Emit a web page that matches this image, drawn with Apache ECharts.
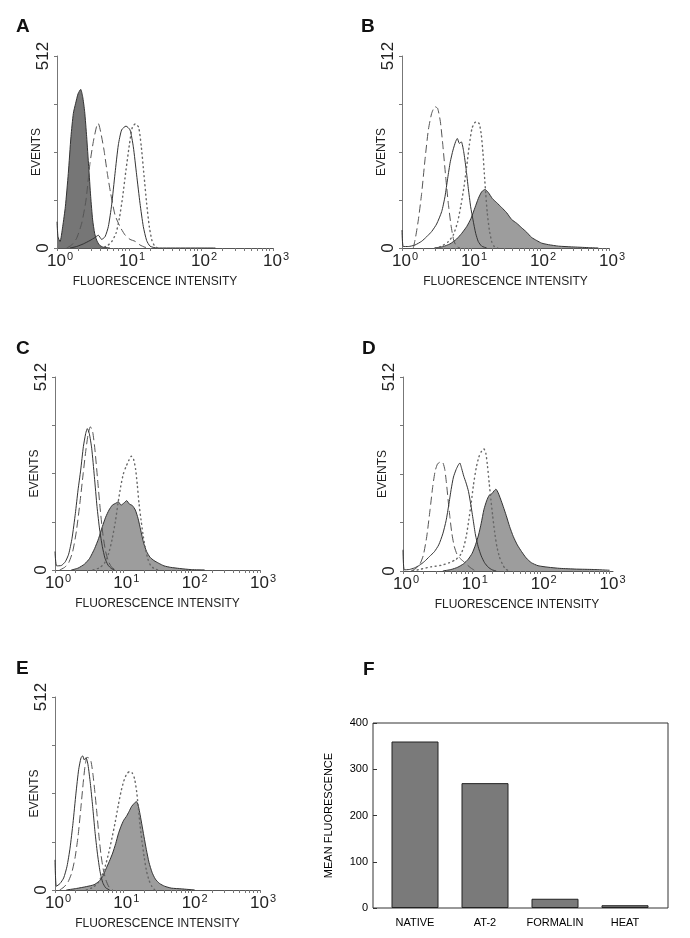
<!DOCTYPE html>
<html><head><meta charset="utf-8">
<script src="https://cdn.jsdelivr.net/npm/echarts@6/dist/echarts.min.js"></script>
<style>html,body{margin:0;padding:0;background:#fff}#c{width:690px;height:938px}</style>
</head><body><div id="c"></div>
<script>
// ---------- DATA (x = log10 fluorescence intensity, y = events) ----------
const A_filled = [[0,70],[0.014,30],[0.042,17],[0.079,57],[0.116,110],[0.157,199],[0.194,297],[0.227,359],[0.259,386],[0.292,411],[0.329,423],[0.356,404],[0.384,364],[0.412,297],[0.440,217],[0.468,137],[0.495,75],[0.523,39],[0.551,21],[0.588,8],[0.644,2],[0.736,0]];
const A_dashed = [[0.134,0],[0.204,8],[0.273,26],[0.343,66],[0.403,128],[0.458,226],[0.505,284],[0.551,325],[0.574,332],[0.606,310],[0.653,261],[0.699,199],[0.745,146],[0.806,88],[0.875,57],[0.944,35],[1.014,23],[1.083,18],[1.153,8],[1.222,2],[1.292,0]];
const A_solid = [[0.181,0],[0.273,4],[0.366,11],[0.458,20],[0.528,28],[0.574,34],[0.620,23],[0.667,30],[0.713,57],[0.759,115],[0.806,199],[0.852,275],[0.898,315],[0.958,325],[1.014,315],[1.060,270],[1.106,195],[1.153,119],[1.199,57],[1.245,20],[1.292,5],[1.384,0],[2.2,0]];
const A_dotted = [[0.597,0],[0.690,5],[0.759,17],[0.819,39],[0.866,79],[0.912,137],[0.958,208],[1.005,275],[1.046,322],[1.088,331],[1.134,322],[1.171,270],[1.208,195],[1.245,119],[1.282,57],[1.319,20],[1.356,5],[1.394,0]];

const B_filled = [[0.478,0],[0.599,4],[0.696,11],[0.792,24],[0.865,39],[0.937,57],[1.000,79],[1.058,108],[1.106,132],[1.155,150],[1.203,156],[1.251,148],[1.309,132],[1.372,121],[1.444,108],[1.517,94],[1.589,76],[1.662,66],[1.734,54],[1.807,42],[1.879,28],[1.952,20],[2.024,13],[2.121,9],[2.266,5],[2.459,3],[2.700,1],[2.845,0]];
const B_dashed = [[0.164,0],[0.198,30],[0.237,75],[0.285,146],[0.333,235],[0.382,315],[0.430,359],[0.478,377],[0.517,372],[0.556,337],[0.594,270],[0.633,190],[0.671,119],[0.710,61],[0.749,21],[0.792,4],[0.841,0]];
const B_solid = [[0,48],[0.019,4],[0.092,4],[0.188,8],[0.285,18],[0.357,30],[0.430,44],[0.502,64],[0.575,97],[0.623,137],[0.662,186],[0.700,230],[0.739,261],[0.778,284],[0.802,292],[0.831,279],[0.860,283],[0.894,257],[0.928,212],[0.961,159],[0.995,110],[1.029,75],[1.068,39],[1.106,17],[1.155,5],[1.227,0]];
const B_dotted = [[0.478,0],[0.575,5],[0.671,17],[0.744,35],[0.807,70],[0.855,115],[0.899,164],[0.937,217],[0.976,275],[1.014,319],[1.053,334],[1.087,337],[1.121,331],[1.150,301],[1.174,252],[1.193,199],[1.213,146],[1.237,92],[1.266,48],[1.300,17],[1.338,4],[1.386,0]];

const C_filled = [[0.239,0],[0.337,5],[0.434,16],[0.507,31],[0.580,57],[0.639,84],[0.693,115],[0.741,140],[0.790,159],[0.839,172],[0.888,177],[0.927,181],[0.966,172],[1.005,177],[1.049,184],[1.088,175],[1.132,171],[1.176,159],[1.215,137],[1.254,106],[1.298,71],[1.341,49],[1.390,34],[1.449,25],[1.517,18],[1.595,11],[1.693,7],[1.824,4],[1.995,1],[2.190,0]];
const C_dashed = [[0.068,0],[0.141,7],[0.200,19],[0.259,49],[0.312,102],[0.361,172],[0.410,252],[0.449,314],[0.483,358],[0.517,380],[0.551,367],[0.585,318],[0.624,239],[0.663,159],[0.702,93],[0.741,49],[0.785,22],[0.834,6],[0.898,0]];
const C_solid = [[0,49],[0.024,11],[0.093,12],[0.151,22],[0.200,42],[0.249,84],[0.298,150],[0.337,212],[0.376,265],[0.415,327],[0.449,362],[0.473,375],[0.502,362],[0.537,323],[0.576,248],[0.615,168],[0.654,106],[0.693,62],[0.732,31],[0.776,13],[0.824,4],[0.873,0]];
const C_dotted = [[0.556,0],[0.654,6],[0.727,19],[0.785,44],[0.834,80],[0.883,128],[0.922,177],[0.961,221],[1.000,255],[1.039,274],[1.078,290],[1.117,302],[1.151,293],[1.180,267],[1.205,225],[1.229,177],[1.259,133],[1.293,88],[1.327,53],[1.361,28],[1.400,12],[1.449,4],[1.507,0]];

const D_filled = [[0.578,0],[0.699,4],[0.796,10],[0.879,19],[0.947,31],[1.005,47],[1.053,69],[1.097,95],[1.136,126],[1.175,162],[1.214,185],[1.252,200],[1.291,204],[1.320,211],[1.350,216],[1.383,206],[1.417,190],[1.456,170],[1.500,146],[1.549,117],[1.602,91],[1.660,69],[1.723,51],[1.791,34],[1.864,22],[1.961,14],[2.107,10],[2.277,7],[2.519,5],[2.762,4],[3.000,2]];
const D_dashed = [[0.117,0],[0.189,7],[0.248,19],[0.296,42],[0.345,91],[0.393,162],[0.432,223],[0.466,263],[0.500,282],[0.534,287],[0.578,286],[0.607,268],[0.631,232],[0.655,188],[0.680,144],[0.709,100],[0.743,66],[0.782,45],[0.825,34],[0.874,26],[0.927,17],[0.985,8],[1.053,0]];
const D_solid = [[0,56],[0.019,3],[0.092,4],[0.165,8],[0.238,15],[0.311,25],[0.383,38],[0.456,51],[0.519,69],[0.578,98],[0.626,133],[0.665,175],[0.699,215],[0.733,248],[0.772,268],[0.801,279],[0.825,285],[0.854,269],[0.883,250],[0.917,232],[0.951,210],[0.985,175],[1.019,135],[1.053,95],[1.092,64],[1.136,40],[1.184,22],[1.238,10],[1.296,3],[1.354,0]];
const D_dotted = [[0.141,0],[0.262,5],[0.408,11],[0.553,15],[0.675,22],[0.772,31],[0.840,44],[0.883,64],[0.922,95],[0.956,135],[0.990,179],[1.024,228],[1.063,272],[1.102,301],[1.141,316],[1.175,322],[1.204,310],[1.228,276],[1.252,232],[1.277,188],[1.301,148],[1.330,104],[1.364,64],[1.403,36],[1.442,19],[1.485,6],[1.539,0]];

const E_filled = [[0.166,0],[0.312,4],[0.459,9],[0.571,14],[0.644,23],[0.698,36],[0.746,56],[0.795,76],[0.844,98],[0.888,123],[0.927,149],[0.966,169],[1.005,185],[1.044,195],[1.083,208],[1.122,222],[1.161,230],[1.190,235],[1.215,226],[1.239,206],[1.268,177],[1.302,142],[1.337,107],[1.376,73],[1.420,47],[1.468,29],[1.532,17],[1.605,10],[1.702,5],[1.849,3],[2.044,0]];
const E_dashed = [[0.068,0],[0.132,8],[0.190,21],[0.244,45],[0.293,85],[0.337,142],[0.376,213],[0.410,279],[0.439,328],[0.468,352],[0.498,350],[0.527,341],[0.556,306],[0.585,257],[0.615,200],[0.644,142],[0.673,94],[0.707,54],[0.746,26],[0.790,8],[0.849,0]];
const E_solid = [[0,80],[0.020,10],[0.073,17],[0.127,32],[0.176,63],[0.220,111],[0.263,177],[0.307,257],[0.346,319],[0.380,350],[0.405,356],[0.429,345],[0.454,351],[0.483,332],[0.517,283],[0.551,222],[0.585,155],[0.620,98],[0.659,49],[0.698,20],[0.741,6],[0.800,0]];
const E_dotted = [[0.459,0],[0.556,7],[0.629,19],[0.688,39],[0.737,64],[0.785,98],[0.834,138],[0.883,182],[0.927,226],[0.966,261],[1.005,288],[1.049,308],[1.093,314],[1.132,310],[1.166,294],[1.195,261],[1.220,217],[1.244,173],[1.273,129],[1.307,85],[1.341,49],[1.376,26],[1.415,10],[1.459,0]];

const xTickLabels = [['10','0'],['10','1'],['10','2'],['10','3']];
const yTickLabels = ['0', '512'];

const barCategories = ['NATIVE', 'AT-2', 'FORMALIN', 'HEAT'];
const barValues = [360, 270, 20, 6];
const barYTicks = [0, 100, 200, 300, 400];

// ---------- LAYOUT ----------
const FONT = '"Liberation Sans", Arial, Helvetica, sans-serif';
const panels = [
  {letter:'A', lx:11, ly:12, grid:{left:57, top:56, width:216, height:192}, xmax:3, fill:'#767676', namePad:[0,20,0,0],
   curves:{filled:A_filled, dashed:A_dashed, solid:A_solid, dotted:A_dotted}},
  {letter:'B', lx:356, ly:12, grid:{left:402, top:56, width:207, height:192}, xmax:3, fill:'#9d9d9d', namePad:[0,0,0,0],
   curves:{filled:B_filled, dashed:B_dashed, solid:B_solid, dotted:B_dotted}},
  {letter:'C', lx:11, ly:334, grid:{left:55, top:377, width:205, height:193}, xmax:3, fill:'#9d9d9d', namePad:[0,0,0,0],
   curves:{filled:C_filled, dashed:C_dashed, solid:C_solid, dotted:C_dotted}},
  {letter:'D', lx:357, ly:334, grid:{left:403, top:377, width:210, height:194}, xmax:3.05, fill:'#9d9d9d', namePad:[0,0,0,18],
   curves:{filled:D_filled, dashed:D_dashed, solid:D_solid, dotted:D_dotted}},
  {letter:'E', lx:11, ly:654, grid:{left:55, top:697, width:205, height:193}, xmax:3, fill:'#9d9d9d', namePad:[0,0,0,0],
   curves:{filled:E_filled, dashed:E_dashed, solid:E_solid, dotted:E_dotted}}
];

const xMinorTicks = [];
for (let d = 0; d < 3; d++) for (let k = 1; k <= 9; k++) xMinorTicks.push(d + Math.log10(k));
xMinorTicks.push(3);

const option = {
  animation: false,
  backgroundColor: '#fff',
  textStyle: {fontFamily: FONT},
  title: [], grid: [], xAxis: [], yAxis: [], series: []
};

panels.forEach((p, i) => {
  option.title.push({text: p.letter, left: p.lx, top: p.ly,
    textStyle: {fontFamily: FONT, fontSize: 19, fontWeight: 'bold', color: '#111'}});
  option.grid.push(Object.assign({containLabel: false}, p.grid));
  option.xAxis.push({
    gridIndex: i, type: 'value', min: 0, max: p.xmax,
    name: 'FLUORESCENCE INTENSITY', nameLocation: 'middle', nameGap: 28, nameMoveOverlap: false,
    nameTextStyle: {fontFamily: FONT, fontSize: 12, color: '#222', padding: p.namePad},
    axisLine: {lineStyle: {color: '#555', width: 1}},
    axisTick: {show: true, customValues: xMinorTicks, length: 3, lineStyle: {color: '#777'}},
    splitLine: {show: false},
    axisLabel: {
      customValues: [0, 1, 2, 3], margin: 3, padding: [0, 0, 0, 6],
      formatter: v => { const t = xTickLabels[Math.round(v)]; return '{m|' + t[0] + '}{s|' + t[1] + '}'; },
      rich: {
        m: {fontFamily: FONT, fontSize: 17, color: '#222', lineHeight: 20},
        s: {fontFamily: FONT, fontSize: 11, color: '#222', lineHeight: 11, verticalAlign: 'top', padding: [0, 0, 0, 1]}
      }
    }
  });
  option.yAxis.push({
    gridIndex: i, type: 'value', min: 0, max: 512, interval: 128,
    name: 'EVENTS', nameLocation: 'middle', nameGap: 14, nameRotate: 90, nameMoveOverlap: false,
    nameTextStyle: {fontFamily: FONT, fontSize: 12, color: '#222'},
    axisLine: {show: true, lineStyle: {color: '#777', width: 1}},
    axisTick: {show: true, length: 3, lineStyle: {color: '#777'}},
    splitLine: {show: false},
    axisLabel: {
      rotate: 90, margin: 5, fontFamily: FONT, fontSize: 17, color: '#222',
      formatter: v => (v === 0 ? yTickLabels[0] : (v === 512 ? yTickLabels[1] : ''))
    }
  });
  const c = p.curves;
  option.series.push({
    type: 'line', xAxisIndex: i, yAxisIndex: i, data: c.filled, showSymbol: false, smooth: 0.2,
    lineStyle: {color: '#333', width: 1}, areaStyle: {color: p.fill, opacity: 1}, z: 2
  });
  option.series.push({
    type: 'line', xAxisIndex: i, yAxisIndex: i, data: c.dashed, showSymbol: false, smooth: 0.2,
    lineStyle: {color: '#555', width: 1, type: [8, 4]}, z: 3
  });
  option.series.push({
    type: 'line', xAxisIndex: i, yAxisIndex: i, data: c.solid, showSymbol: false, smooth: 0.2,
    lineStyle: {color: '#333', width: 1}, z: 3
  });
  option.series.push({
    type: 'line', xAxisIndex: i, yAxisIndex: i, data: c.dotted, showSymbol: false, smooth: 0.2,
    lineStyle: {color: '#666', width: 1.4, type: [1, 3.6], cap: 'round'}, z: 3
  });
});

// Panel F (bar chart)
option.title.push({text: 'F', left: 358, top: 655,
  textStyle: {fontFamily: FONT, fontSize: 19, fontWeight: 'bold', color: '#111'}});
// frame box
option.grid.push({left: 373, top: 723, width: 295, height: 185, show: true, borderColor: '#333', borderWidth: 1, backgroundColor: 'rgba(0,0,0,0)'});
option.xAxis.push({gridIndex: 5, type: 'value', show: false, min: 0, max: 1});
option.yAxis.push({gridIndex: 5, type: 'value', show: false, min: 0, max: 1});
// bar grid
option.grid.push({left: 380, top: 723, width: 280, height: 185});
option.xAxis.push({
  gridIndex: 6, type: 'category', data: barCategories,
  axisLine: {show: false}, axisTick: {show: false},
  axisLabel: {interval: 0, margin: 9, fontFamily: FONT, fontSize: 11, color: '#000'}
});
option.yAxis.push({
  gridIndex: 6, type: 'value', min: 0, max: 400, interval: 100, offset: 7,
  name: 'MEAN FLUORESCENCE', nameLocation: 'middle', nameGap: 39, nameRotate: 90, nameMoveOverlap: false,
  nameTextStyle: {fontFamily: FONT, fontSize: 11, color: '#000'},
  axisLine: {show: false},
  axisTick: {show: true, inside: true, length: 4, lineStyle: {color: '#333'}},
  splitLine: {show: false},
  axisLabel: {margin: 5, fontFamily: FONT, fontSize: 11, color: '#000',
    formatter: v => String(barYTicks[barYTicks.indexOf(v)])}
});
option.series.push({
  type: 'bar', xAxisIndex: 6, yAxisIndex: 6, data: barValues, barWidth: 47,
  itemStyle: {color: '#7a7a7a', borderColor: '#222', borderWidth: 1}
});

const chart = echarts.init(document.getElementById('c'), null, {renderer: 'canvas'});
chart.setOption(option);
</script>
</body></html>
